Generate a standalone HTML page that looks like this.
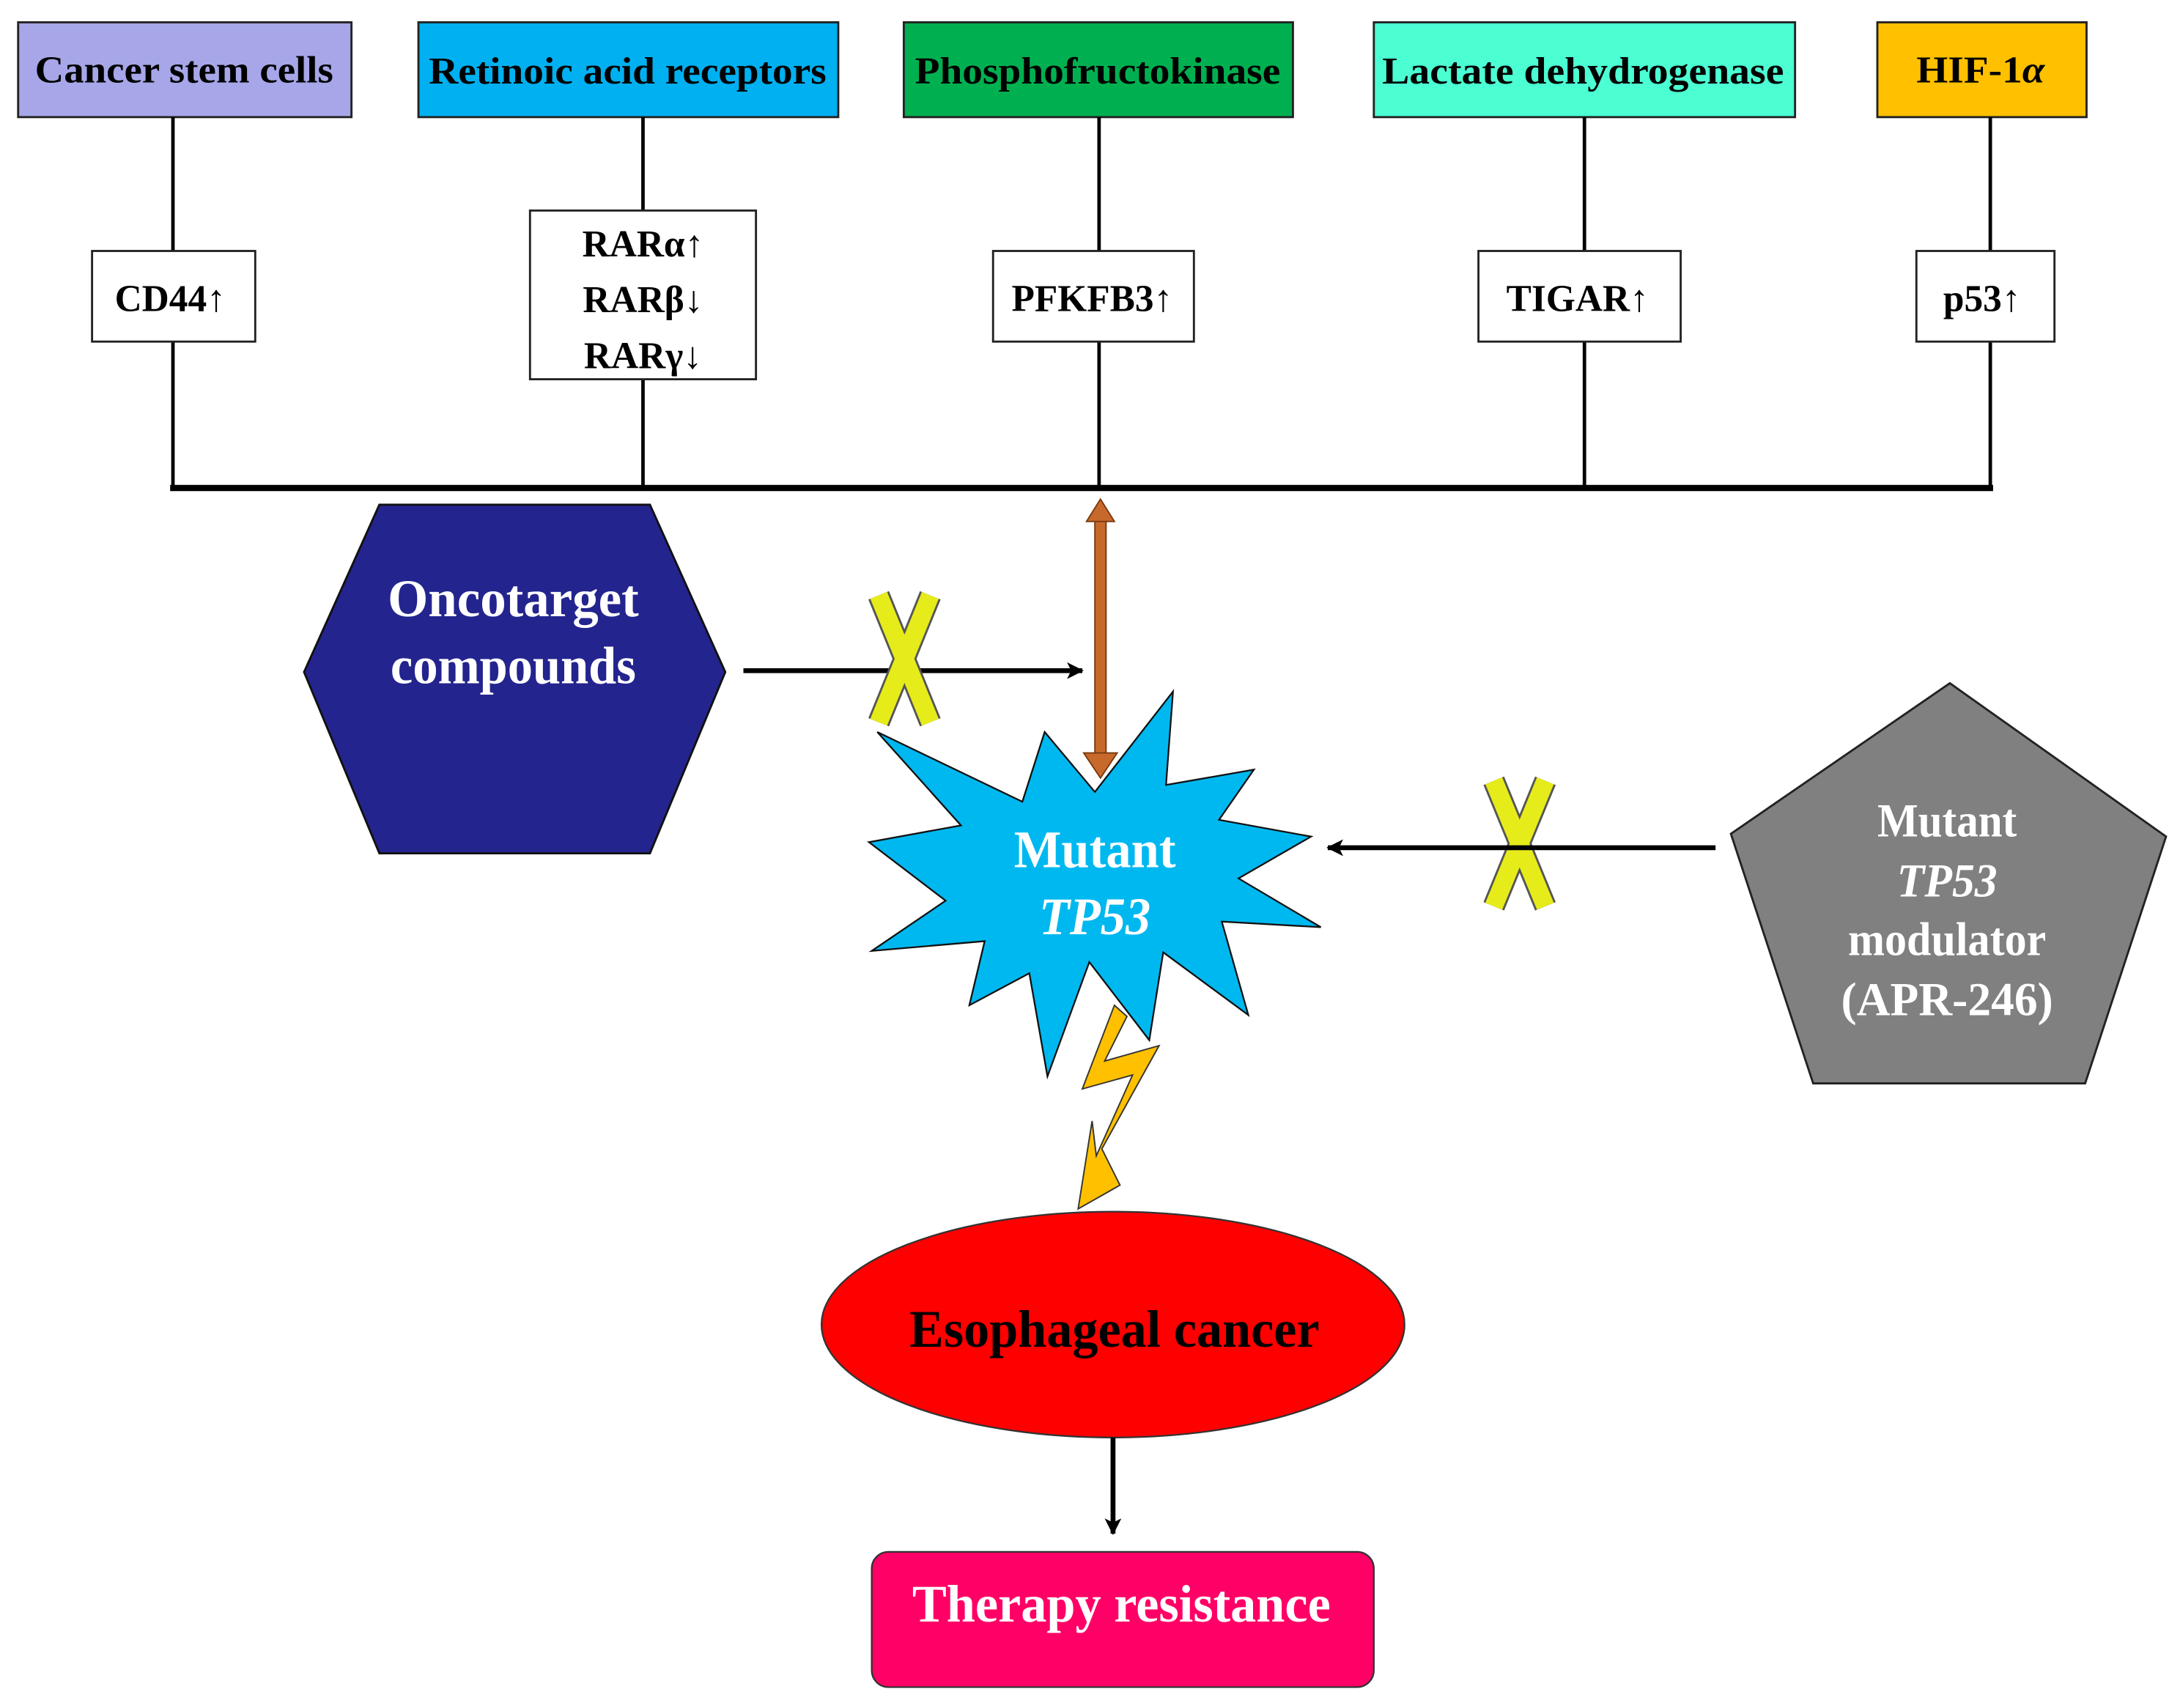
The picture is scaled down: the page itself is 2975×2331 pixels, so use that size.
<!DOCTYPE html>
<html><head><meta charset="utf-8"><style>html,body{margin:0;padding:0;background:#fff}svg{display:block}</style></head>
<body>
<svg width="2975" height="2331" viewBox="0 0 1563 1225" preserveAspectRatio="none" xmlns="http://www.w3.org/2000/svg" font-family="Liberation Serif, serif" font-weight="bold">
<defs>
<marker id="ah" markerWidth="12" markerHeight="12" refX="11" refY="6" orient="auto" markerUnits="userSpaceOnUse"><path d="M0,0 L12,6 L0,12 L3,6 Z" fill="#000"/></marker>
</defs>
<g stroke="#222" stroke-width="1.5">
<rect x="13" y="16" width="239" height="68" fill="#a6a6e8"/>
<rect x="300" y="16" width="301" height="68" fill="#00b0f0"/>
<rect x="648" y="16" width="279" height="68" fill="#00b050"/>
<rect x="985" y="16" width="302" height="68" fill="#4bffd3"/>
<rect x="1346" y="16" width="150" height="68" fill="#ffc000"/>
</g>
<g font-size="27" text-anchor="middle" fill="#000">
<text x="132" y="59" textLength="214" lengthAdjust="spacingAndGlyphs">Cancer stem cells</text>
<text x="450" y="60" textLength="285" lengthAdjust="spacingAndGlyphs">Retinoic acid receptors</text>
<text x="787" y="60" textLength="262" lengthAdjust="spacingAndGlyphs">Phosphofructokinase</text>
<text x="1135" y="60" textLength="288" lengthAdjust="spacingAndGlyphs">Lactate dehydrogenase</text>
<text x="1420" y="59" textLength="92" lengthAdjust="spacingAndGlyphs">HIF-1<tspan font-style="italic">α</tspan></text>
</g>
<g stroke="#000" stroke-width="2.5">
<line x1="124" y1="84" x2="124" y2="352"/>
<line x1="461" y1="84" x2="461" y2="352"/>
<line x1="788" y1="84" x2="788" y2="352"/>
<line x1="1136" y1="84" x2="1136" y2="352"/>
<line x1="1427" y1="84" x2="1427" y2="352"/>
<line x1="122" y1="350" x2="1429" y2="350" stroke-width="4.5"/>
</g>
<g stroke="#222" stroke-width="1.5" fill="#fff">
<rect x="66" y="180" width="117" height="65"/>
<rect x="380" y="151" width="162" height="121"/>
<rect x="712" y="180" width="144" height="65"/>
<rect x="1060" y="180" width="145" height="65"/>
<rect x="1374" y="180" width="99" height="65"/>
</g>
<g font-size="27" text-anchor="middle" fill="#000">
<text x="122" y="223">CD44<tspan font-weight="normal">↑</tspan></text>
<text x="461" y="184">RARα<tspan font-weight="normal">↑</tspan></text>
<text x="461" y="224">RARβ<tspan font-weight="normal">↓</tspan></text>
<text x="461" y="264">RARγ<tspan font-weight="normal">↓</tspan></text>
<text x="783" y="223">PFKFB3<tspan font-weight="normal">↑</tspan></text>
<text x="1131" y="223">TIGAR<tspan font-weight="normal">↑</tspan></text>
<text x="1421" y="223">p53<tspan font-weight="normal">↑</tspan></text>
</g>
<polygon points="272,362 466,362 520,482 466,612 272,612 218,482" fill="#24248f" stroke="#111" stroke-width="1.5"/>
<text x="368" y="442" font-size="38" fill="#fff" text-anchor="middle" textLength="180" lengthAdjust="spacingAndGlyphs">Oncotarget</text>
<text x="368" y="490" font-size="38" fill="#fff" text-anchor="middle" textLength="176" lengthAdjust="spacingAndGlyphs">compounds</text>
<line x1="533" y1="481" x2="776" y2="481" stroke="#000" stroke-width="3.5" marker-end="url(#ah)"/>
<polygon points="629,525 733,575 749,525 785,568 841,496 836,563 899,552 874,588 940,600 888,630 947,665 876,661 895,728 834,683 824,746 781,690 751,772 738,698 695,721 706,675 625,682 678,646 623,604 689,592" fill="#00b8f0" stroke="#111" stroke-width="1.2"/>
<g fill="#c8692c" stroke="#7a3a10" stroke-width="1">
<rect x="785" y="372" width="8" height="170"/>
<polygon points="789,358 799,374 779,374"/>
<polygon points="789,558 801,540 777,540"/>
</g>
<text x="785" y="622" font-size="38" fill="#fff" text-anchor="middle" textLength="116" lengthAdjust="spacingAndGlyphs">Mutant</text>
<text x="785" y="670" font-size="38" fill="#fff" text-anchor="middle" font-style="italic" textLength="80" lengthAdjust="spacingAndGlyphs">TP53</text>
<polygon points="799,721 808,729 792,761 831,750 790,824 803,850 773,867 783,804 786,829 812,771 776,781" fill="#ffc000" stroke="#333" stroke-width="1"/>
<g>
<g stroke="#555" stroke-width="16"><line x1="630" y1="427" x2="667" y2="518"/><line x1="667" y1="427" x2="630" y2="518"/></g>
<g stroke="#e5ec1a" stroke-width="13"><line x1="630" y1="427" x2="667" y2="518"/><line x1="667" y1="427" x2="630" y2="518"/></g>
<g stroke="#555" stroke-width="16"><line x1="1071" y1="560" x2="1108" y2="650"/><line x1="1108" y1="560" x2="1071" y2="650"/></g>
<g stroke="#e5ec1a" stroke-width="13"><line x1="1071" y1="560" x2="1108" y2="650"/><line x1="1108" y1="560" x2="1071" y2="650"/></g>
</g>
<line x1="1230" y1="608" x2="952" y2="608" stroke="#000" stroke-width="3.5" marker-end="url(#ah)"/>
<polygon points="1398,490 1553,600 1495,777 1300,777 1241,598" fill="#808080" stroke="#222" stroke-width="1.5"/>
<g font-size="34" fill="#fff" text-anchor="middle">
<text x="1396" y="600" textLength="100" lengthAdjust="spacingAndGlyphs">Mutant</text>
<text x="1396" y="643" font-style="italic" textLength="72" lengthAdjust="spacingAndGlyphs">TP53</text>
<text x="1396" y="685" textLength="142" lengthAdjust="spacingAndGlyphs">modulator</text>
<text x="1396" y="728" textLength="152" lengthAdjust="spacingAndGlyphs">(APR-246)</text>
</g>
<ellipse cx="798" cy="950" rx="209" ry="81" fill="#ff0000" stroke="#333" stroke-width="1.2"/>
<text x="799" y="966" font-size="38" fill="#000" text-anchor="middle" textLength="294" lengthAdjust="spacingAndGlyphs">Esophageal cancer</text>
<line x1="798" y1="1031" x2="798" y2="1100" stroke="#000" stroke-width="3.5" marker-end="url(#ah)"/>
<rect x="625" y="1113" width="360" height="97" rx="12" fill="#ff0066" stroke="#333" stroke-width="1.2"/>
<text x="804" y="1163" font-size="38" fill="#fff" text-anchor="middle" textLength="300" lengthAdjust="spacingAndGlyphs">Therapy resistance</text>
</svg>
</body></html>
